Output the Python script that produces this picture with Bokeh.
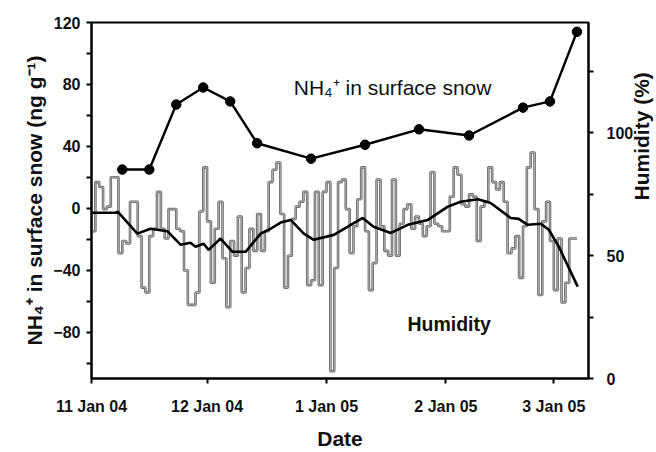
import math
from bokeh.plotting import figure
from bokeh.models import Range1d, LinearAxis, FixedTicker, Label
from bokeh.embed import file_html
from bokeh.resources import INLINE

# ---------------- data ----------------
# x values are days since 1 Nov 2004 (tick text)
tick_days = [0, 30, 61, 92, 120]
tick_labels = ["11 Jan 04", "12 Jan 04", "1 Jan 05", "2 Jan 05", "3 Jan 05"]

# NH4+ in surface snow (ng g-1)
nh4_days = [8, 15, 22, 29, 36, 43, 57, 71, 85, 98, 112, 119, 126]
nh4_vals = [25, 25, 67, 78, 69, 42, 32, 41, 51, 47, 65, 69, 114]

# daily humidity (%), day 0 .. 125
hum_vals = [60, 80, 78, 69, 70, 82, 82, 51, 56, 55, 72, 72, 58, 37, 35, 58, 61, 76, 61, 57, 69,
            69, 61, 60, 44, 30, 30, 35, 68, 86, 64, 39, 61, 72, 49, 29, 56, 50, 66, 35, 45, 61, 52,
            67, 52, 60, 80, 85, 88, 67, 37, 50, 65, 70, 72, 76, 38, 40, 76, 38, 76, 80, 3, 45,
            80, 81, 69, 51, 62, 73, 86, 60, 36, 47, 81, 62, 52, 50, 81, 50, 63, 69, 71, 61, 66,
            63, 58, 62, 84, 63, 62, 60, 60, 74, 86, 83, 71, 70, 75, 74, 56, 70, 72, 86, 80, 77, 80,
            72, 51, 53, 58, 41, 62, 86, 92, 69, 34, 64, 72, 56, 36, 57, 31, 39, 57, 57]

# smoothed humidity curve (%)
smooth_days = [0, 6.2, 6.8, 11.9, 15.3, 19.7, 23.1, 25.7, 27, 29.1, 30.4, 33.5, 36.6, 40, 43.9,
               46.5, 49.1, 51.7, 55.1, 57.7, 62.9, 67.3, 70.4, 73.2, 77.7, 82.1, 87.3, 92.5, 95.8,
               100.3, 103.6, 108.8, 110.9, 113.2, 116.6, 118.7, 121.3, 123.9, 126.2]
smooth_vals = [67.5, 67.5, 68, 59, 61, 60, 54.5, 55.3, 53.7, 54.9, 52.4, 57, 51.6, 51.6, 59,
               61, 63.5, 64.6, 59, 56.5, 58.5, 62.6, 65.4, 61.8, 59.3, 62.6, 64.6, 70, 72,
               73, 71.5, 65.4, 65, 62.6, 63, 60.6, 53.7, 45, 37.4]

left_ticks = [-80, -40, 0, 40, 80, 120]
left_minor = [-100, -60, -20, 20, 60, 100]
right_ticks = [0, 50, 100]
right_minor = [25, 75, 125]

FONT = "Liberation Sans"
INK = "#111111"

p = figure(frame_width=497, frame_height=356, output_backend="svg", toolbar_location=None,
           x_range=Range1d(0, 129), y_range=Range1d(-110, 120),
           min_border_left=91, min_border_right=10, min_border_top=22, min_border_bottom=10)
p.grid.visible = False
p.outline_line_color = "black"
p.outline_line_width = 2
p.background_fill_color = "white"
p.border_fill_color = "white"

p.extra_y_ranges = {"hum": Range1d(0, 145)}

# humidity step trace (hollow grey look)
hx = list(range(len(hum_vals) + 1))
hy = hum_vals + [hum_vals[-1]]
p.step(hx, hy, mode="after", y_range_name="hum", line_color="#686868", line_width=2.6)
p.step(hx, hy, mode="after", y_range_name="hum", line_color="#c0c0c0", line_width=0.8)

# smoothed humidity
p.line(smooth_days, smooth_vals, y_range_name="hum", line_color="black", line_width=2.6)

# NH4+
p.line(nh4_days, nh4_vals, line_color="black", line_width=2.4)
p.scatter(nh4_days, nh4_vals, size=9.5, fill_color="black", line_color="black")

def style_axis(ax, size="16px"):
    ax.axis_line_width = 2
    ax.axis_line_color = "black"
    ax.major_tick_line_width = 2
    ax.minor_tick_line_width = 2
    ax.major_tick_in = 0
    ax.major_tick_out = 5
    ax.minor_tick_in = 0
    ax.minor_tick_out = 5
    ax.major_label_text_font = FONT
    ax.major_label_text_font_style = "bold"
    ax.major_label_text_font_size = size
    ax.major_label_text_color = INK
    ax.axis_label_text_font = FONT
    ax.axis_label_text_font_style = "bold"
    ax.axis_label_text_font_size = "21px"
    ax.axis_label_text_color = INK

xa = p.xaxis[0]
xa.ticker = FixedTicker(ticks=tick_days, minor_ticks=[])
xa.major_label_overrides = {d: l for d, l in zip(tick_days, tick_labels)}
style_axis(xa)
xa.axis_label = "Date"
xa.major_label_standoff = 14
xa.axis_label_standoff = 9

ya = p.yaxis[0]
ya.ticker = FixedTicker(ticks=left_ticks, minor_ticks=left_minor)
style_axis(ya)
ya.axis_label = "NH\u2084\u207a in surface snow (ng g\u207b\u00b9)"
ya.major_label_standoff = 6
ya.axis_label_standoff = 4

ra = LinearAxis(y_range_name="hum")
ra.ticker = FixedTicker(ticks=right_ticks, minor_ticks=right_minor)
style_axis(ra)
ra.axis_label = "Humidity (%)"
ra.axis_label_orientation = math.pi / 2
ra.major_label_standoff = 13
ra.axis_label_standoff = 5
p.add_layout(ra, "right")

p.add_layout(Label(x=52.5, y=78, text="NH\u2084\u207a in surface snow",
                   text_font=FONT, text_font_size="21px", text_color=INK,
                   text_baseline="alphabetic"))
p.add_layout(Label(x=82, y=-75, text="Humidity",
                   text_font=FONT, text_font_size="19.5px", text_font_style="bold",
                   text_color=INK, text_baseline="alphabetic"))

open("out.html", "w").write(file_html(p, INLINE))
